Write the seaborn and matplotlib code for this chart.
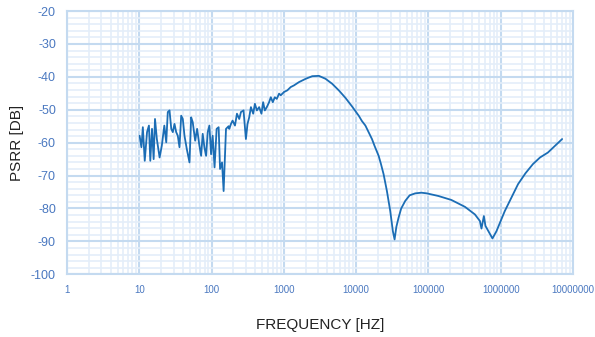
import seaborn as sns
import numpy as np
import pandas as pd
import matplotlib
matplotlib.use("Agg")
import matplotlib.pyplot as plt
from matplotlib.ticker import LogLocator, MultipleLocator, FuncFormatter, NullFormatter

# frequency [Hz] and PSRR [dB]
freq = [10.1, 10.7, 11.2, 11.9, 12.8, 13.6, 14.2, 15.0, 15.8, 16.5,
        17.5, 19.1, 20.5, 22.2, 23.6, 24.8, 26.2, 27.7, 29.1, 30.7,
        32.4, 34.1, 36.0, 38.0, 40.0, 42.2, 45.4, 49.5, 52.2, 54.9,
        59.3, 63.1, 67.9, 71.7, 75.4, 79.6, 84.0, 88.4, 93.3, 98.4,
        103.5, 110, 117.5, 125.3, 131, 139.6, 146.8, 158.4, 172, 176,
        185.6, 195.3, 210.8, 224.5, 241.5, 254.9, 276.8, 298.6, 314.2, 331.7,
        350.2, 376.7, 397.5, 423.6, 455.3, 489.7, 516.8, 545.6, 581.1, 625.2,
        660, 703.7, 749.7, 798.6, 859, 906.4, 1006, 1117, 1245, 1381,
        1619, 2004, 2471, 3054, 3777, 4659, 5755, 7122, 8784, 10860,
        12000, 13430, 16560, 18000, 20480, 22000, 23990, 26660, 28000, 29650,
        31000, 32230, 34030, 36000, 38630, 42000, 47770, 55000, 65630, 80000,
        94820, 137400, 207500, 320500, 439700, 515400, 542000, 585000, 615600,
        707900, 768900, 873700, 1138000, 1400000, 1738000, 2200000,
        2793000, 3500000, 4498000, 5500000, 7079000]
psrr = [-57.9, -61.4, -55.3, -65.5, -56.8, -54.8, -65.5, -55.8, -65.0, -52.8,
        -58.9, -64.5, -60.9, -54.8, -59.9, -50.7, -50.2, -55.8, -56.8, -54.3,
        -56.8, -57.9, -61.4, -51.8, -52.8, -57.9, -61.9, -66.0, -52.3, -53.8,
        -59.4, -55.8, -60.9, -64.0, -57.3, -61.4, -64.0, -56.8, -54.8, -63.5,
        -57.9, -67.5, -55.8, -55.3, -68.0, -66.0, -74.7, -55.8, -55.0, -55.8,
        -54.3, -53.3, -54.8, -51.2, -52.8, -50.7, -50.2, -58.9, -54.3, -52.3,
        -49.2, -51.2, -48.2, -50.2, -49.2, -51.2, -47.7, -50.2, -49.2, -47.7,
        -46.2, -47.7, -46.2, -46.7, -45.1, -45.6, -44.6, -44.1, -43.1, -42.6,
        -41.6, -40.6, -39.8, -39.7, -40.6, -42.1, -44.1, -46.4, -49.0, -51.8,
        -53.4, -54.8, -58.9, -61.0, -64.0, -66.4, -69.6, -74.7, -77.5, -80.8,
        -84.0, -86.9, -89.4, -85.6, -82.8, -80.0, -77.7, -76.0, -75.4, -75.2,
        -75.4, -76.2, -77.4, -79.5, -81.8, -83.8, -86.1, -82.3, -85.3,
        -87.7, -89.1, -86.9, -80.8, -76.8, -72.6, -69.3,
        -66.5, -64.5, -63.0, -61.2, -58.9]

x_ticks = [1, 10, 100, 1000, 10000, 100000, 1000000, 10000000]
y_ticks = [-100, -90, -80, -70, -60, -50, -40, -30, -20]

df = pd.DataFrame({"freq": freq, "psrr": psrr})

sns.set_style("white")
plt.rcParams["font.family"] = ["Liberation Sans", "DejaVu Sans"]
plt.rcParams["axes.unicode_minus"] = False

fig = plt.figure(figsize=(5.95, 3.37), dpi=100)
ax = fig.add_axes([0.1126, 0.186, 0.8504, 0.7813])

ax.set_xscale("log")
ax.set_xlim(1, 10000000)
ax.set_ylim(-100, -20)

ax.xaxis.set_major_locator(LogLocator(base=10))
ax.xaxis.set_minor_locator(LogLocator(base=10, subs=np.arange(2, 10)))
ax.xaxis.set_major_formatter(FuncFormatter(lambda v, _: f"{int(round(v))}"))
ax.xaxis.set_minor_formatter(NullFormatter())
ax.set_xticks(x_ticks)
ax.set_yticks(y_ticks)
ax.yaxis.set_minor_locator(MultipleLocator(2))

ax.grid(which="minor", color="#e4eef9", linewidth=1.2)
ax.grid(which="major", color="#c4daf0", linewidth=1.5)
ax.set_axisbelow(True)

sns.lineplot(data=df, x="freq", y="psrr", ax=ax, color="#1b6db5",
             linewidth=1.3, estimator=None, sort=False)

for s in ax.spines.values():
    s.set_color("#c4daf0")
    s.set_linewidth(1.5)

ax.tick_params(axis="both", which="both", length=0)
ax.tick_params(axis="x", labelsize=7, labelcolor="#4a78c0", pad=8)
ax.tick_params(axis="y", labelsize=9, labelcolor="#4a78c0", pad=8)

ax.set_xlabel("FREQUENCY [HZ]", fontsize=11, color="#222222", labelpad=16)
ax.set_ylabel("PSRR [DB]", fontsize=11, color="#222222", labelpad=5)

fig.savefig("out.png", dpi=100)
